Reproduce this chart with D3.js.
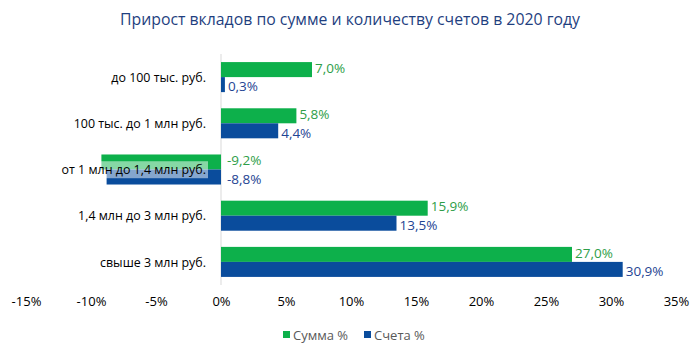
<!DOCTYPE html>
<html><head><meta charset="utf-8">
<script src="https://cdn.jsdelivr.net/npm/d3@7"></script>
<style>body{margin:0;background:#fff}svg{display:block;font-family:"Open Sans",sans-serif}</style>
</head><body><svg id="c" width="700" height="351"></svg>
<script>
const categories = ["до 100 тыс. руб.", "100 тыс. до 1 млн руб.", "от 1 млн до 1,4 млн руб.", "1,4 млн до 3 млн руб.", "свыше 3 млн руб."];
const sumValues = [7.0, 5.8, -9.2, 15.9, 27.0];
const accValues = [0.3, 4.4, -8.8, 13.5, 30.9];
const seriesNames = ["Сумма %", "Счета %"];
const tickValues = [-15, -10, -5, 0, 5, 10, 15, 20, 25, 30, 35];
const title = "Прирост вкладов по сумме и количеству счетов в 2020 году";

const colors = ["#0db04b", "#0a4c9c"];
const labelColors = ["#2e9e48", "#1f4593"];
const svg = d3.select("#c");
const x = d3.scaleLinear().domain([-15, 35]).range([26, 676]);
const y = d3.scaleBand().domain(categories).range([54, 285]).paddingInner(0.35).paddingOuter(0.175);
const sub = d3.scaleBand().domain([0, 1]).range([0, y.bandwidth()]);
const fmt = v => d3.format(".1f")(v).replace(".", ",").replace("−", "-") + "%";
function condense(sel, k) {
  sel.each(function () {
    const w = this.getComputedTextLength();
    d3.select(this).attr("textLength", w * k).attr("lengthAdjust", "spacingAndGlyphs");
  });
}

svg.append("text").attr("x", 350).attr("y", 25).attr("text-anchor", "middle")
  .attr("font-size", 17).attr("fill", "#1f3f7f").text(title).call(condense, 0.93);

// zero line
svg.append("line").attr("x1", x(0)).attr("x2", x(0)).attr("y1", 54).attr("y2", 285)
  .attr("stroke", "#d9d9d9").attr("stroke-width", 1);

const series = [sumValues, accValues];
series.forEach((vals, si) => {
  svg.append("g").selectAll("rect").data(vals).join("rect")
    .attr("x", d => x(Math.min(0, d)))
    .attr("width", d => Math.abs(x(d) - x(0)))
    .attr("y", (d, i) => y(categories[i]) + sub(si))
    .attr("height", sub.bandwidth())
    .attr("fill", colors[si]);
});

// category labels with semi-transparent background
const catG = svg.append("g");
categories.forEach(c => {
  const t = catG.append("text").attr("x", 206).attr("y", y(c) + y.bandwidth() / 2)
    .attr("dy", "0.35em").attr("text-anchor", "end").attr("font-size", 13.5).attr("fill", "#000").text(c)
    .call(condense, 0.92);
  const b = t.node().getBBox();
  catG.insert("rect", "text").attr("x", b.x - 1).attr("y", b.y + 1).attr("width", b.width + 3).attr("height", b.height - 1)
    .attr("fill", "#fff").attr("opacity", 0.5);
});

series.forEach((vals, si) => {
  svg.append("g").selectAll("text").data(vals).join("text")
    .attr("x", d => d < 0 ? x(0) + 6 : x(d) + 3)
    .attr("y", (d, i) => y(categories[i]) + sub(si) + sub.bandwidth() / 2 + (si === 0 ? -1.5 : 2))
    .attr("dy", "0.35em").attr("font-size", 13.5).attr("fill", labelColors[si]).text(d => fmt(d));
});

// axis
const ax = svg.append("g").attr("transform", "translate(0,294)")
  .call(d3.axisBottom(x).tickValues(tickValues).tickSize(0).tickFormat(d => d + "%"));
ax.select(".domain").remove();
ax.selectAll("text").attr("font-size", 13).attr("fill", "#000").attr("font-family", '"Open Sans",sans-serif');

// legend
const leg = svg.append("g");
const lx = [283, 364];
seriesNames.forEach((n, i) => {
  leg.append("rect").attr("x", lx[i]).attr("y", 331).attr("width", 7).attr("height", 7).attr("fill", colors[i]);
  leg.append("text").attr("x", lx[i] + 10).attr("y", 335).attr("dy", "0.35em").attr("font-size", 13)
    .attr("fill", "#595959").text(n);
});
</script></body></html>
